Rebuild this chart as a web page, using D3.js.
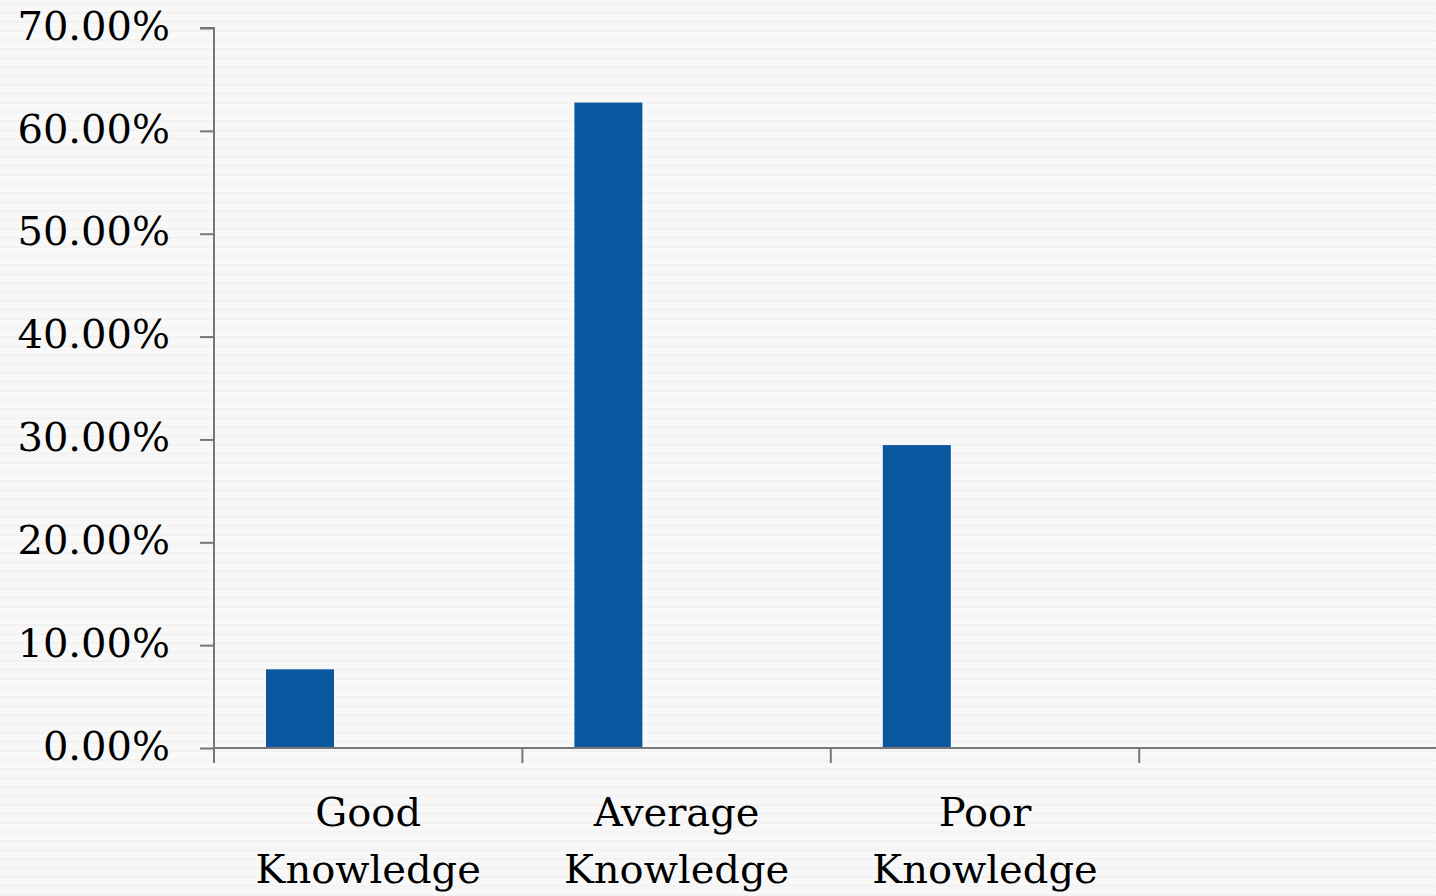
<!DOCTYPE html>
<html><head><meta charset="utf-8">
<script src="https://cdn.jsdelivr.net/npm/d3@7"></script>
<style>html,body{margin:0;padding:0;background:#f8f8f8;overflow:hidden}</style>
</head><body>
<svg id="chart" width="1436" height="896"></svg>
<script>
const categories = ["Good Knowledge", "Average Knowledge", "Poor Knowledge", ""];
const values = [0.0765, 0.6275, 0.2945, null];
const yTicks = [0, 0.1, 0.2, 0.3, 0.4, 0.5, 0.6, 0.7];

const W = 1436, H = 896;
const svg = d3.select("#chart");
const defs = svg.append("defs");
const pat = defs.append("pattern").attr("id","bg").attr("patternUnits","userSpaceOnUse")
  .attr("width",8).attr("height",9);
pat.append("rect").attr("width",8).attr("height",9).attr("fill","#f8f8f8");
pat.append("path").attr("d","M0,5 L2,3 L4,5 L6,3 L8,5").attr("fill","none")
  .attr("stroke","#ededed").attr("stroke-width",1);
svg.append("rect").attr("width",W).attr("height",H).attr("fill","url(#bg)");

const x0 = 214, y0 = 748, yTop = 28;
const bandW = 308.4;
const x = d3.scaleBand().domain(d3.range(categories.length)).range([x0, x0 + bandW*categories.length]).paddingInner(0).paddingOuter(0);
const y = d3.scaleLinear().domain([0, 0.7]).range([y0, yTop]);

const font = "'DejaVu Serif', serif";

// bars (cluster position: first of two slots)
const barOff = 52, barW = 68;
svg.append("g").selectAll("rect").data(values.map((v,i)=>({v,i})).filter(d=>d.v!=null))
  .join("rect")
  .attr("x", d => x(d.i) + barOff)
  .attr("width", barW)
  .attr("y", d => y(d.v))
  .attr("height", d => y(0) - y(d.v))
  .attr("fill", "#0b58a1");

// y axis
const yAxis = d3.axisLeft(y).tickValues(yTicks).tickFormat(d3.format(".2%")).tickSize(14).tickPadding(30);
const gy = svg.append("g").attr("transform", `translate(${x0},0)`).call(yAxis);
gy.select(".domain").attr("stroke","#777").attr("stroke-width",2).attr("d", `M-14,${yTop}H0V${y0}`);
gy.selectAll(".tick line").attr("stroke","#777").attr("stroke-width",2);
gy.selectAll(".tick text").attr("font-family",font).attr("font-size",40).attr("fill","#000").attr("dy","0.28em");

// x axis
const gx = svg.append("g").attr("transform", `translate(0,${y0})`);
gx.append("line").attr("x1", x0).attr("x2", W).attr("y1",0).attr("y2",0).attr("stroke","#777").attr("stroke-width",2);
const tickXs = d3.range(categories.length).map(i => x(i));
gx.selectAll("line.t").data(tickXs).join("line").attr("class","t")
  .attr("x1", d=>d).attr("x2", d=>d).attr("y1",0).attr("y2",15).attr("stroke","#777").attr("stroke-width",2);

const labels = gx.selectAll("text.cat").data(categories.map((c,i)=>({c,i})).filter(d=>d.c))
  .join("text").attr("class","cat")
  .attr("x", d => x(d.i) + x.bandwidth()/2)
  .attr("text-anchor","middle")
  .attr("font-family",font).attr("font-size",40).attr("fill","#000");
labels.each(function(d){
  const parts = d.c.split(" ");
  const t = d3.select(this);
  parts.forEach((p,k)=>{
    t.append("tspan").attr("x", x(d.i) + x.bandwidth()/2).attr("y", 78 + k*57).text(p);
  });
});
</script>
</body></html>
